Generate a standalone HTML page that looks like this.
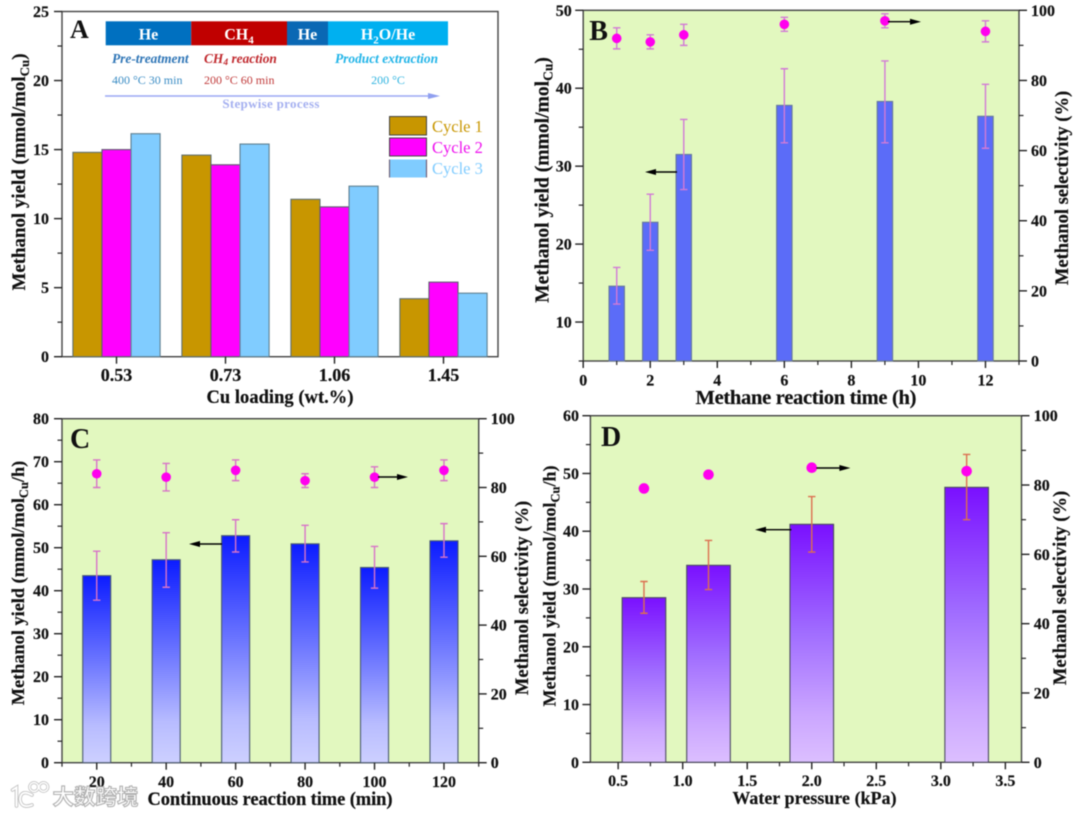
<!DOCTYPE html>
<html lang="en">
<head>
<meta charset="utf-8">
<title>Methanol yield panels</title>
<style>
html,body{margin:0;padding:0;background:#fff;width:1080px;height:816px;overflow:hidden}
svg{display:block;filter:blur(0.45px)}
text{font-family:"Liberation Serif","Noto Serif CJK SC",serif;font-weight:bold;fill:#111}
.tick{font-size:16px;stroke:#111;stroke-width:.2px}
.ttl{font-size:18.5px;stroke:#111;stroke-width:.2px}
.sched{font-size:16px;fill:#fff}
.wm{font-family:"Liberation Sans","Noto Sans CJK SC",sans-serif;font-size:21.5px;fill:#fff;stroke:#b0b0b0;stroke-width:1.1px}
</style>
</head>
<body>
<svg id="chart" xmlns="http://www.w3.org/2000/svg" width="1080" height="816" viewBox="0 0 1080 816">
  <defs>
    <linearGradient id="gradC" x1="0" y1="0" x2="0" y2="1">
      <stop offset="0" stop-color="#0c1cff"/>
      <stop offset=".45" stop-color="#6a74ff"/>
      <stop offset=".8" stop-color="#b8bcff"/>
      <stop offset="1" stop-color="#cdd0ff"/>
    </linearGradient>
    <linearGradient id="gradD" x1="0" y1="0" x2="0" y2="1">
      <stop offset="0" stop-color="#7a10ff"/>
      <stop offset=".45" stop-color="#a06cff"/>
      <stop offset=".8" stop-color="#cba6ff"/>
      <stop offset="1" stop-color="#dcbfff"/>
    </linearGradient>
  </defs>

  <g id="panel-a">
    <text class="ttl" style="font-size:18.9px" transform="translate(25,172) rotate(-90)" text-anchor="middle">Methanol yield (mmol/mol<tspan dy="4" font-size="13">Cu</tspan><tspan dy="-4">)</tspan></text>
    <text class="ttl" x="280" y="403" text-anchor="middle" textLength="147">Cu loading (wt.%)</text>
    <text x="70" y="38" style="font-size:26px">A</text>
    <g>
      <rect x="105.7" y="21.3" width="85.5" height="24" fill="#0070c0"/>
      <rect x="191.2" y="21.3" width="95.8" height="24" fill="#c00000"/>
      <rect x="287" y="21.3" width="41" height="24" fill="#0a68b4"/>
      <rect x="328" y="21.3" width="120" height="24" fill="#00b0f0"/>
      <text class="sched" x="148.5" y="39.5" text-anchor="middle">He</text>
      <text class="sched" x="239" y="39.5" text-anchor="middle">CH<tspan dy="4" font-size="11">4</tspan></text>
      <text class="sched" x="307.5" y="39.5" text-anchor="middle">He</text>
      <text class="sched" x="388" y="39.5" text-anchor="middle">H<tspan dy="4" font-size="11">2</tspan><tspan dy="-4">O/He</tspan></text>
      <text x="112" y="63" style="font-size:13.4px;font-style:italic;fill:#2e75b6">Pre-treatment</text>
      <text x="204" y="63" style="font-size:13.4px;font-style:italic;fill:#c0282d">CH<tspan dy="2" font-size="9.5">4</tspan><tspan dy="-2"> reaction</tspan></text>
      <text x="335" y="63" style="font-size:13.4px;font-style:italic;fill:#20b4e8">Product extraction</text>
      <text x="112" y="84" style="font-size:12px;font-weight:normal;fill:#3a8cc4">400 °C 30 min</text>
      <text x="204" y="84" style="font-size:12px;font-weight:normal;fill:#c03a3a">200 °C 60 min</text>
      <text x="388" y="84" text-anchor="middle" style="font-size:12px;font-weight:normal;fill:#30b4e0">200 °C</text>
      <line x1="105" y1="96" x2="430" y2="96" stroke="#9aa8f4" stroke-width="1.6"/>
      <polygon points="428,93 440,96 428,99" fill="#8f9ff0"/>
      <text x="271" y="108" text-anchor="middle" style="font-size:13px;fill:#a5b0f0;letter-spacing:.3px">Stepwise process</text>
    </g>
    <g>
      <rect x="389.5" y="116.5" width="37" height="18.5" fill="#c89600" stroke="#444" stroke-width="1"/>
      <rect x="389.5" y="138" width="37" height="18" fill="#ff00ff" stroke="#444" stroke-width="1"/>
      <rect x="389.5" y="159.5" width="37" height="18" fill="#80ccff"/>
      <path d="M389.5 159.5V177.5M426.5 159.5V177.5" stroke="#705a70" stroke-width="1.1"/>
      <text x="432" y="132" style="font-size:16.5px;font-weight:normal;fill:#c89600">Cycle 1</text>
      <text x="432" y="153" style="font-size:16.5px;font-weight:normal;fill:#ee10ee">Cycle 2</text>
      <text x="432" y="174" style="font-size:16.5px;font-weight:normal;fill:#80ccff">Cycle 3</text>
    </g>
  </g>

  <g id="panel-b">
    <text class="ttl" style="font-size:19.6px" transform="translate(548.5,180) rotate(-90)" text-anchor="middle">Methanol yield (mmol/mol<tspan dy="4" font-size="13.5">Cu</tspan><tspan dy="-4">)</tspan></text>
    <text class="ttl" transform="translate(1068,188) rotate(-90)" text-anchor="middle">Methanol selectivity (%)</text>
    <text class="ttl" style="font-size:20.5px" x="806" y="404" text-anchor="middle" textLength="221">Methane reaction time (h)</text>
  </g>

  <g id="panel-c">
    <text class="ttl" style="font-size:18.3px" transform="translate(24,583) rotate(-90)" text-anchor="middle">Methanol yield (mmol/mol<tspan dy="4" font-size="12.5">Cu</tspan><tspan dy="-4">/h)</tspan></text>
    <text class="ttl" transform="translate(528,598) rotate(-90)" text-anchor="middle">Methanol selectivity (%)</text>
    <text class="ttl" x="270" y="805" text-anchor="middle" textLength="245">Continuous reaction time (min)</text>
  </g>

  <g id="panel-d">
    <text class="ttl" style="font-size:18px" transform="translate(555.5,586) rotate(-90)" text-anchor="middle">Methanol yield (mmol/mol<tspan dy="4" font-size="12.5">Cu</tspan><tspan dy="-4">/h)</tspan></text>
    <text class="ttl" transform="translate(1066,588) rotate(-90)" text-anchor="middle">Methanol selectivity (%)</text>
    <text class="ttl" style="font-size:17.8px" x="814.5" y="804" text-anchor="middle" textLength="164">Water pressure (kPa)</text>
  </g>

  <g>
    <g fill="none" stroke-linecap="round">
      <path d="M12.5 790 L16.5 787.5 V806 M32 795 Q21 789 20 799 Q21 809 32 805" stroke="#c0c0c0" stroke-width="3.6"/>
      <circle cx="34" cy="787" r="4.4" stroke="#c0c0c0" stroke-width="3"/>
      <circle cx="43.5" cy="787" r="4.4" stroke="#c0c0c0" stroke-width="3"/>
      <path d="M12.5 790 L16.5 787.5 V806 M32 795 Q21 789 20 799 Q21 809 32 805" stroke="#fff" stroke-width="1.9"/>
      <circle cx="34" cy="787" r="4.4" stroke="#fff" stroke-width="1.5"/>
      <circle cx="43.5" cy="787" r="4.4" stroke="#fff" stroke-width="1.5"/>
    </g>
    <text class="wm" x="52.5" y="804.5">大数跨境</text>
  </g>
</svg>

<script>
/* ---------- Panel A data ---------- */
const aCategories = ['0.53', '0.73', '1.06', '1.45'];
const aCycle1 = [14.8, 14.6, 11.4, 4.2];
const aCycle2 = [15.0, 13.9, 10.85, 5.4];
const aCycle3 = [16.15, 15.4, 12.35, 4.6];
const aYTicks = [0, 5, 10, 15, 20, 25];
const aYMinor = [2.5, 7.5, 12.5, 17.5, 22.5];

/* ---------- Panel B data ---------- */
const bTimes = [1, 2, 3, 6, 9, 12];
const bYield = [14.6, 22.8, 31.5, 37.8, 38.3, 36.4];
const bYieldHi = [17, 26.4, 36, 42.5, 43.5, 40.5];
const bYieldLo = [12.3, 19.2, 27, 33, 33, 32.3];
const bSelect = [92, 91, 93, 96, 97, 94];
const bSelectHi = [95, 93, 96, 98, 99, 97];
const bSelectLo = [89, 89, 90, 94, 95, 91];
const bXTicks = [0, 2, 4, 6, 8, 10, 12];
const bXMinor = [1, 3, 5, 7, 9, 11, 13];
const bYTicks = [10, 20, 30, 40, 50];
const bYMinor = [5, 15, 25, 35, 45];
const bRTicks = [0, 20, 40, 60, 80, 100];
const bRMinor = [10, 30, 50, 70, 90];

/* ---------- Panel C data ---------- */
const cTimes = [20, 40, 60, 80, 100, 120];
const cYield = [43.5, 47.2, 52.8, 50.9, 45.4, 51.6];
const cYieldHi = [49.2, 53.5, 56.5, 55.2, 50.3, 55.6];
const cYieldLo = [37.8, 40.8, 49, 46.7, 40.6, 47.8];
const cSelect = [84, 83, 85, 82, 83, 85];
const cSelectHi = [88, 87, 88, 84, 86, 88];
const cSelectLo = [80, 79, 82, 80, 80, 82];
const cXTicks = [20, 40, 60, 80, 100, 120];
const cXMinor = [10, 30, 50, 70, 90, 110, 130];
const cYTicks = [0, 10, 20, 30, 40, 50, 60, 70, 80];
const cYMinor = [5, 15, 25, 35, 45, 55, 65, 75];
const cRTicks = [0, 20, 40, 60, 80, 100];
const cRMinor = [10, 30, 50, 70, 90];

/* ---------- Panel D data ---------- */
const dPressure = [0.7, 1.2, 2.0, 3.2];
const dYield = [28.5, 34.1, 41.2, 47.6];
const dYieldHi = [31.3, 38.4, 46, 53.3];
const dYieldLo = [25.8, 29.9, 36.4, 42];
const dSelect = [79, 83, 85, 84];
const dXTicks = [0.5, 1.0, 1.5, 2.0, 2.5, 3.0, 3.5];
const dXMinor = [0.75, 1.25, 1.75, 2.25, 2.75, 3.25];
const dYTicks = [0, 10, 20, 30, 40, 50, 60];
const dYMinor = [5, 15, 25, 35, 45, 55];
const dRTicks = [0, 20, 40, 60, 80, 100];
const dRMinor = [10, 30, 50, 70, 90];

const NS = 'http://www.w3.org/2000/svg';
function make(parent, tag, attrs, txt) {
  const el = document.createElementNS(NS, tag);
  for (const k in attrs) el.setAttribute(k, attrs[k]);
  if (txt !== undefined) el.textContent = txt;
  parent.appendChild(el);
  return el;
}
function scale(d0, d1, r0, r1) {
  return v => r0 + (v - d0) * (r1 - r0) / (d1 - d0);
}

function frame(panel, box, bg) {
  const plot = make(panel, 'rect', {x: box.l, y: box.t, width: box.r - box.l, height: box.b - box.t, fill: bg, stroke: '#444', 'stroke-width': 1.4});
  
  
  panel.insertBefore(plot, panel.firstChild);
}

function yAxis(panel, x, dir, sc, majors, minors, labelOffset) {
  majors.forEach(v => {
    const t = make(panel, 'line', {x1: x, x2: x + dir * 8, y1: sc(v), y2: sc(v), stroke: '#222', 'stroke-width': 1.4});
    
    
    const l = make(panel, 'text', {x: x + dir * labelOffset, y: sc(v) + 5.5, class: 'tick', 'text-anchor': dir < 0 ? 'end' : 'start'}, String(v));
    
    
  });
  minors.forEach(v => {
    const t = make(panel, 'line', {x1: x, x2: x + dir * 4.5, y1: sc(v), y2: sc(v), stroke: '#222', 'stroke-width': 1.2});
    
    
  });
}

function xAxis(panel, y, sc, majors, minors, labels, baseline, size) {
  majors.forEach((v, i) => {
    const t = make(panel, 'line', {x1: sc(v), x2: sc(v), y1: y, y2: y + 7, stroke: '#222', 'stroke-width': 1.4});
    
    
    const l = make(panel, 'text', {x: sc(v), y: baseline, class: 'tick', 'text-anchor': 'middle', style: 'font-size:' + size + 'px'}, labels[i]);
    
    
  });
  minors.forEach(v => {
    const t = make(panel, 'line', {x1: sc(v), x2: sc(v), y1: y, y2: y + 4, stroke: '#222', 'stroke-width': 1.2});
    
    
  });
}

function bars(panel, xs, vals, xSc, ySc, baseVal, width, fill, stroke) {
  vals.forEach((v, i) => {
    const bar = make(panel, 'rect', {x: xSc(xs[i]) - width / 2, y: ySc(v), width: width, height: ySc(baseVal) - ySc(v), fill: fill, stroke: stroke, 'stroke-width': 1.1});
    
    
  });
}

function errors(panel, xs, hi, lo, xSc, ySc, color, capHalf) {
  hi.forEach((h, i) => {
    const x = xSc(xs[i]);
    const d = 'M' + x + ' ' + ySc(h) + 'V' + ySc(lo[i]) +
      'M' + (x - capHalf) + ' ' + ySc(h) + 'H' + (x + capHalf) +
      'M' + (x - capHalf) + ' ' + ySc(lo[i]) + 'H' + (x + capHalf);
    const e = make(panel, 'path', {d: d, fill: 'none', stroke: color, 'stroke-width': 1.4});
    
    
  });
}

function points(panel, xs, vals, xSc, ySc, r) {
  vals.forEach((v, i) => {
    const c = make(panel, 'circle', {cx: xSc(xs[i]), cy: ySc(v), r: r, fill: '#ff00ee'});
    
    
  });
}

function arrow(panel, x1, x2, y) {
  const dir = x2 > x1 ? 1 : -1;
  const s = make(panel, 'line', {x1: x1, x2: x2 - dir * 8, y1: y, y2: y, stroke: '#000', 'stroke-width': 1.4});
  
  
  const h = make(panel, 'path', {d: 'M' + x2 + ' ' + y + 'L' + (x2 - dir * 11) + ' ' + (y - 3) + 'V' + (y + 3) + 'Z', fill: '#000'});
  
  
}

function letter(panel, txt, x, y, size) {
  const t = make(panel, 'text', {x: x, y: y, style: 'font-size:' + size + 'px'}, txt);
  
  
}

/* ---------- Panel A ---------- */
(function () {
  const panel = document.getElementById('panel-a');
  const box = {l: 62, r: 498, t: 11.5, b: 356.7};
  const x = scale(0.5, 4.5, box.l, box.r);
  const y = scale(0, 25, box.b, box.t);
  frame(panel, box, '#fff');
  const pos = aCategories.map((c, i) => i + 1);
  const w = 0.2667;
  const shift = (k) => pos.map(p => p + k * w);
  const layer = make(panel, 'g', {});
  
  
  panel.insertBefore(layer, panel.children[1]);
  const bw = x(w) - x(0);
  bars(layer, shift(-1), aCycle1, x, y, 0, bw, '#c89600', '#5f6f70');
  bars(layer, shift(0), aCycle2, x, y, 0, bw, '#ff00ff', '#5f5f70');
  bars(layer, shift(1), aCycle3, x, y, 0, bw, '#80ccff', '#5f7f90');
  yAxis(panel, box.l, -1, y, aYTicks, aYMinor, 13);
  xAxis(panel, box.b, x, pos, [], aCategories, 381, 18);
})();

/* ---------- Panel B ---------- */
(function () {
  const panel = document.getElementById('panel-b');
  const box = {l: 583.2, r: 1019, t: 10.3, b: 361};
  const x = scale(0, 13, box.l, box.r);
  const y = scale(5, 50, box.b, box.t);
  const r = scale(0, 100, box.b, box.t);
  frame(panel, box, '#e2f8bf');
  bars(panel, bTimes, bYield, x, y, 5, 15.4, '#5b6cf8', '#66789c');
  errors(panel, bTimes, bYieldHi, bYieldLo, x, y, '#d27ad6', 3.7);
  errors(panel, bTimes, bSelectHi, bSelectLo, x, r, '#d27ad6', 3.7);
  points(panel, bTimes, bSelect, x, r, 4.8);
  yAxis(panel, box.l, -1, y, bYTicks, bYMinor, 11.5);
  yAxis(panel, box.r, 1, r, bRTicks, bRMinor, 12);
  xAxis(panel, box.b, x, bXTicks, bXMinor, bXTicks.map(String), 385.5, 16);
  arrow(panel, 677, 645, 172);
  arrow(panel, 888, 921, 21.7);
  letter(panel, 'B', 589.3, 40, 28);
})();

/* ---------- Panel C ---------- */
(function () {
  const panel = document.getElementById('panel-c');
  const box = {l: 62, r: 478.7, t: 418.7, b: 762.7};
  const x = scale(10, 130, box.l, box.r);
  const y = scale(0, 80, box.b, box.t);
  const r = scale(0, 100, box.b, box.t);
  frame(panel, box, '#e2f8bf');
  bars(panel, cTimes, cYield, x, y, 0, 28, 'url(#gradC)', '#4c5c70');
  errors(panel, cTimes, cYieldHi, cYieldLo, x, y, '#d873c8', 3.7);
  errors(panel, cTimes, cSelectHi, cSelectLo, x, r, '#d873c8', 3.7);
  points(panel, cTimes, cSelect, x, r, 4.8);
  yAxis(panel, box.l, -1, y, cYTicks, cYMinor, 13);
  yAxis(panel, box.r, 1, r, cRTicks, cRMinor, 12);
  xAxis(panel, box.b, x, cXTicks, cXMinor, cXTicks.map(String), 787, 16);
  arrow(panel, 222, 189, 544);
  arrow(panel, 378, 408, 477);
  letter(panel, 'C', 70, 448, 28);
})();

/* ---------- Panel D ---------- */
(function () {
  const panel = document.getElementById('panel-d');
  const box = {l: 590.4, r: 1021.5, t: 415.7, b: 762.3};
  const x = scale(0.285, 3.625, box.l, box.r);
  const y = scale(0, 60, box.b, box.t);
  const r = scale(0, 100, box.b, box.t);
  frame(panel, box, '#e2f8bf');
  bars(panel, dPressure, dYield, x, y, 0, 43.6, 'url(#gradD)', '#4c4c60');
  errors(panel, dPressure, dYieldHi, dYieldLo, x, y, '#dc6f50', 3.7);
  points(panel, dPressure, dSelect, x, r, 5.3);
  yAxis(panel, box.l, -1, y, dYTicks, dYMinor, 11.4);
  yAxis(panel, box.r, 1, r, dRTicks, dRMinor, 12.2);
  xAxis(panel, box.b, x, dXTicks, dXMinor, dXTicks.map(v => v.toFixed(1)), 786, 16);
  arrow(panel, 791.4, 755, 529.7);
  arrow(panel, 816.4, 850.4, 468);
  letter(panel, 'D', 601, 446, 28);
})();
</script>
</body>
</html>
